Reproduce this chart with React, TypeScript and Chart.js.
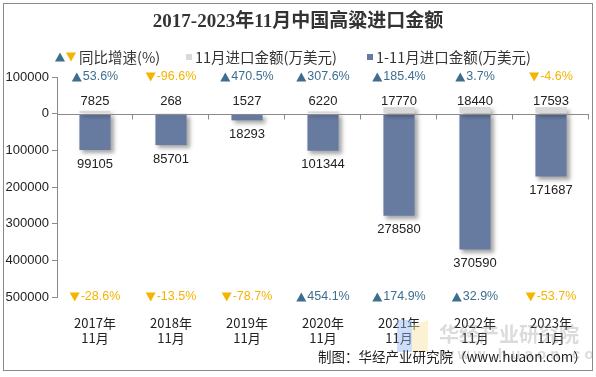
import React, { useEffect, useRef } from "react";
import { Chart, registerables } from "chart.js";

Chart.register(...registerables);

const categories = [
  ["2017年", "11月"],
  ["2018年", "11月"],
  ["2019年", "11月"],
  ["2020年", "11月"],
  ["2021年", "11月"],
  ["2022年", "11月"],
  ["2023年", "11月"],
];
const novValues = [7825, 268, 1527, 6220, 17770, 18440, 17593];
const cumValues = [99105, 85701, 18293, 101344, 278580, 370590, 171687];
const novGrowth = [53.6, -96.6, 470.5, 307.6, 185.4, 3.7, -4.6];
const cumGrowth = [-28.6, -13.5, -78.7, 454.1, 174.9, 32.9, -53.7];

const TITLE = "2017-2023年11月中国高粱进口金额";
const LEGEND_GROWTH = "同比增速(%)";
const LEGEND_NOV = "11月进口金额(万美元)";
const LEGEND_CUM = "1-11月进口金额(万美元)";
const SOURCE = "制图：华经产业研究院（www.huaon.com）";

const UP = "#3d6e8e";
const DOWN = "#f4b400";
const GRAY = "#d9d9d9";
const BLUE = "#677ba1";
const SANS = '"Liberation Sans", Arial, "Noto Sans CJK SC", sans-serif';
const CJK = '"Noto Sans CJK SC", "Liberation Sans", sans-serif';

function tri(ctx: CanvasRenderingContext2D, cx: number, cy: number, up: boolean, w: number, h: number, color: string) {
  ctx.fillStyle = color;
  ctx.beginPath();
  if (up) {
    ctx.moveTo(cx - w / 2, cy + h / 2);
    ctx.lineTo(cx + w / 2, cy + h / 2);
    ctx.lineTo(cx, cy - h / 2);
  } else {
    ctx.moveTo(cx - w / 2, cy - h / 2);
    ctx.lineTo(cx + w / 2, cy - h / 2);
    ctx.lineTo(cx, cy + h / 2);
  }
  ctx.closePath();
  ctx.fill();
}

const shadowPlugin = {
  id: "shadow",
  beforeDatasetsDraw(chart: any) {
    const ctx = chart.ctx;
    ctx.save();
    ctx.shadowColor = "rgba(0,0,0,0.35)";
    ctx.shadowBlur = 4;
    ctx.shadowOffsetX = 3;
    ctx.shadowOffsetY = 3;
  },
  afterDatasetsDraw(chart: any) {
    chart.ctx.restore();
  },
};

function growthLabel(ctx: CanvasRenderingContext2D, g: number, x: number, y: number) {
  const txt = g.toFixed(1) + "%";
  ctx.font = "12.5px " + SANS;
  const tw = ctx.measureText(txt).width;
  const triW = 10;
  const total = triW + 1 + tw;
  const left = x - total / 2;
  const color = g >= 0 ? UP : DOWN;
  tri(ctx, left + triW / 2, y, g >= 0, triW, 9, color);
  ctx.fillStyle = color;
  ctx.textAlign = "left";
  ctx.fillText(txt, left + triW + 1, y);
}

const decorPlugin = {
  id: "decor",
  afterDraw(chart: any) {
    const ctx = chart.ctx as CanvasRenderingContext2D;
    const area = chart.chartArea;
    const xs = chart.scales.x;
    const ys = chart.scales.y;
    const W = chart.width;
    ctx.save();

    // frame
    ctx.strokeStyle = "#8a8a8a";
    ctx.lineWidth = 1;
    ctx.strokeRect(3.5, 3.5, 589, 367);

    // title
    ctx.fillStyle = "#333";
    ctx.textAlign = "center";
    ctx.textBaseline = "middle";
    ctx.font = 'bold 19px "Liberation Serif", "Times New Roman", "Noto Sans CJK SC", serif';
    ctx.fillText(TITLE, 298, 22);

    // legend
    const ly = 57;
    tri(ctx, 60, ly, true, 10, 9, UP);
    tri(ctx, 71, ly, false, 10, 9, DOWN);
    ctx.textAlign = "left";
    ctx.font = "14.5px " + CJK;
    ctx.fillStyle = "#333";
    ctx.fillText(LEGEND_GROWTH, 79, ly);
    ctx.fillStyle = GRAY;
    ctx.fillRect(186, ly - 3, 6, 6);
    ctx.fillStyle = "#333";
    ctx.fillText(LEGEND_NOV, 195, ly);
    ctx.fillStyle = BLUE;
    ctx.fillRect(367, ly - 3, 6, 6);
    ctx.fillStyle = "#333";
    ctx.fillText(LEGEND_CUM, 376, ly);

    // zero axis line with ticks
    const y0 = Math.round(ys.getPixelForValue(0)) + 0.5;
    ctx.strokeStyle = "#8a8a8a";
    ctx.beginPath();
    ctx.moveTo(area.left, y0);
    ctx.lineTo(area.right, y0);
    const step = (area.right - area.left) / categories.length;
    for (let i = 1; i <= categories.length; i++) {
      const x = Math.round(area.left + i * step) - 0.5;
      ctx.moveTo(x, y0);
      ctx.lineTo(x, y0 + 5);
    }
    ctx.stroke();

    // value labels
    const yTop = ys.getPixelForValue(ys.max);
    const yBot = ys.getPixelForValue(ys.min);
    for (let i = 0; i < categories.length; i++) {
      const x = xs.getPixelForValue(i);
      ctx.textAlign = "center";
      ctx.fillStyle = "#222";
      ctx.font = "13px " + SANS;
      ctx.fillText(String(novValues[i]), x, ys.getPixelForValue(0) - 12);
      ctx.fillText(String(cumValues[i]), x, ys.getPixelForValue(-cumValues[i]) + 14);
      growthLabel(ctx, novGrowth[i], x, yTop);
      growthLabel(ctx, cumGrowth[i], x, yBot);
    }

    // watermark
    ctx.globalAlpha = 0.45;
    ctx.fillStyle = "#8fb6f0";
    ctx.fillRect(397, 320, 15, 32);
    ctx.fillStyle = "#f6e3a0";
    ctx.beginPath();
    ctx.moveTo(412, 326);
    ctx.lineTo(428, 320);
    ctx.lineTo(428, 352);
    ctx.lineTo(412, 352);
    ctx.closePath();
    ctx.fill();
    ctx.globalAlpha = 0.3;
    ctx.fillStyle = "#888";
    ctx.font = 'bold 20px "Noto Sans CJK SC", sans-serif';
    ctx.textAlign = "left";
    ctx.fillText("华经产业研究院", 439, 334);
    ctx.font = 'bold 15px "Liberation Sans", sans-serif';
    ctx.fillText("w w w . h u a o n . c o m", 442, 355);
    ctx.globalAlpha = 1;

    // source
    ctx.fillStyle = "#222";
    ctx.textAlign = "left";
    ctx.font = "13.5px " + CJK;
    ctx.fillText(SOURCE, 318, 357);

    ctx.restore();
  },
};

export default function App() {
  const ref = useRef<HTMLCanvasElement>(null);
  useEffect(() => {
    document.body.style.margin = "0";
    const chart = new Chart(ref.current as HTMLCanvasElement, {
      type: "bar",
      data: {
        labels: categories,
        datasets: [
          {
            label: LEGEND_NOV,
            data: novValues,
            backgroundColor: GRAY,
            barPercentage: 0.41,
            categoryPercentage: 1,
          },
          {
            label: LEGEND_CUM,
            data: cumValues.map((v) => -v),
            backgroundColor: BLUE,
            barPercentage: 0.41,
            categoryPercentage: 1,
          },
        ],
      },
      options: {
        animation: false,
        responsive: false,
        layout: { padding: { left: 0, right: 7, top: 77, bottom: 0 } },
        plugins: { legend: { display: false }, tooltip: { enabled: false }, title: { display: false } },
        scales: {
          x: {
            stacked: true,
            grid: { display: false, drawTicks: false },
            border: { display: false },
            ticks: { color: "#222", font: { size: 13, family: CJK }, padding: 18, maxRotation: 0 },
            afterFit: (s: any) => {
              s.height = 80;
            },
          },
          y: {
            stacked: true,
            min: -500000,
            max: 100000,
            grid: { drawOnChartArea: false, drawTicks: true, tickLength: 5, color: "#8a8a8a" },
            border: { display: true, color: "#8a8a8a" },
            ticks: {
              stepSize: 100000,
              color: "#222",
              padding: 3,
              font: { size: 13, family: SANS },
              callback: (v: any) => String(Math.abs(Number(v))),
            },
            afterFit: (s: any) => {
              s.width = 57;
            },
          },
        },
      },
      plugins: [shadowPlugin, decorPlugin],
    });
    return () => chart.destroy();
  }, []);
  return (
    <div style={{ position: "absolute", left: 0, top: 0, width: 596, height: 377, background: "#fff" }}>
      <canvas ref={ref} width={596} height={377} />
    </div>
  );
}
